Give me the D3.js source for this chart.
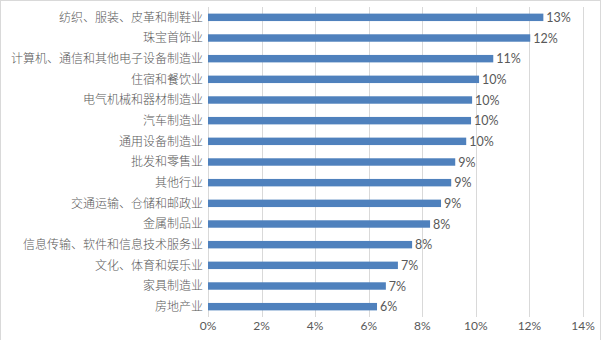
<!DOCTYPE html>
<html>
<head>
<meta charset="utf-8">
<script src="https://cdn.jsdelivr.net/npm/d3@7"></script>
<style>
  body { margin: 0; background: #fff; }
  svg { display: block; }
</style>
</head>
<body>
<div id="chart"></div>
<script>
// industries, top to bottom
const categories = [
    "纺织、服装、皮革和制鞋业",
    "珠宝首饰业",
    "计算机、通信和其他电子设备制造业",
    "住宿和餐饮业",
    "电气机械和器材制造业",
    "汽车制造业",
    "通用设备制造业",
    "批发和零售业",
    "其他行业",
    "交通运输、仓储和邮政业",
    "金属制品业",
    "信息传输、软件和信息技术服务业",
    "文化、体育和娱乐业",
    "家具制造业",
    "房地产业"
];

// share, in %
const values = [12.52, 12.03, 10.65, 10.12, 9.86, 9.82, 9.64, 9.23, 9.08, 8.70, 8.29, 7.62, 7.09, 6.64, 6.31];

const xTicks = [0, 2, 4, 6, 8, 10, 12, 14];

const width = 605;
const height = 340;
const margin = { top: 7, right: 22, bottom: 23, left: 208 };

const svg = d3.select("#chart").append("svg")
    .attr("width", width)
    .attr("height", height);

// chart border
svg.append("rect")
    .attr("x", 0.5)
    .attr("y", 0.5)
    .attr("width", 600)
    .attr("height", height)
    .attr("fill", "none")
    .attr("stroke", "#d9d9d9");

const x = d3.scaleLinear()
    .domain([0, 14])
    .range([margin.left, width - margin.right]);

const y = d3.scaleBand()
    .domain(categories)
    .range([margin.top, height - margin.bottom])
    .paddingInner(0.64)
    .paddingOuter(0.32);

// gridlines
svg.append("g")
    .selectAll("line")
    .data(xTicks)
    .join("line")
    .attr("x1", d => Math.round(x(d)) + 0.5)
    .attr("x2", d => Math.round(x(d)) + 0.5)
    .attr("y1", margin.top)
    .attr("y2", height - margin.bottom)
    .attr("stroke", "#d9d9d9")
    .attr("stroke-width", 1);

// x tick labels
svg.append("g")
    .selectAll("text")
    .data(xTicks)
    .join("text")
    .attr("x", d => x(d))
    .attr("y", height - margin.bottom + 13)
    .attr("text-anchor", "middle")
    .attr("font-family", "Lato, 'Noto Sans', sans-serif")
    .attr("font-size", 12)
    .attr("fill", "#595959")
    .text(d => d + "%");

// category labels
svg.append("g")
    .selectAll("text")
    .data(categories)
    .join("text")
    .attr("x", margin.left - 5)
    .attr("y", d => y(d) + y.bandwidth() / 2)
    .attr("dy", "0.36em")
    .attr("text-anchor", "end")
    .attr("font-family", "'Noto Sans CJK SC', sans-serif")
    .attr("font-weight", 300)
    .attr("font-size", 12)
    .attr("fill", "#595959")
    .text(d => d);

// bars
svg.append("g")
    .selectAll("rect")
    .data(values)
    .join("rect")
    .attr("x", x(0))
    .attr("y", (d, i) => y(categories[i]))
    .attr("width", d => x(d) - x(0))
    .attr("height", y.bandwidth())
    .attr("fill", "#4f81bd");

// value labels
svg.append("g")
    .selectAll("text")
    .data(values)
    .join("text")
    .attr("x", d => x(d) + 3)
    .attr("y", (d, i) => y(categories[i]) + y.bandwidth() / 2)
    .attr("dy", "0.36em")
    .attr("font-family", "Lato, 'Noto Sans', sans-serif")
    .attr("font-size", 12.5)
    .attr("fill", "#595959")
    .text(d => Math.round(d) + "%");
</script>
</body>
</html>
